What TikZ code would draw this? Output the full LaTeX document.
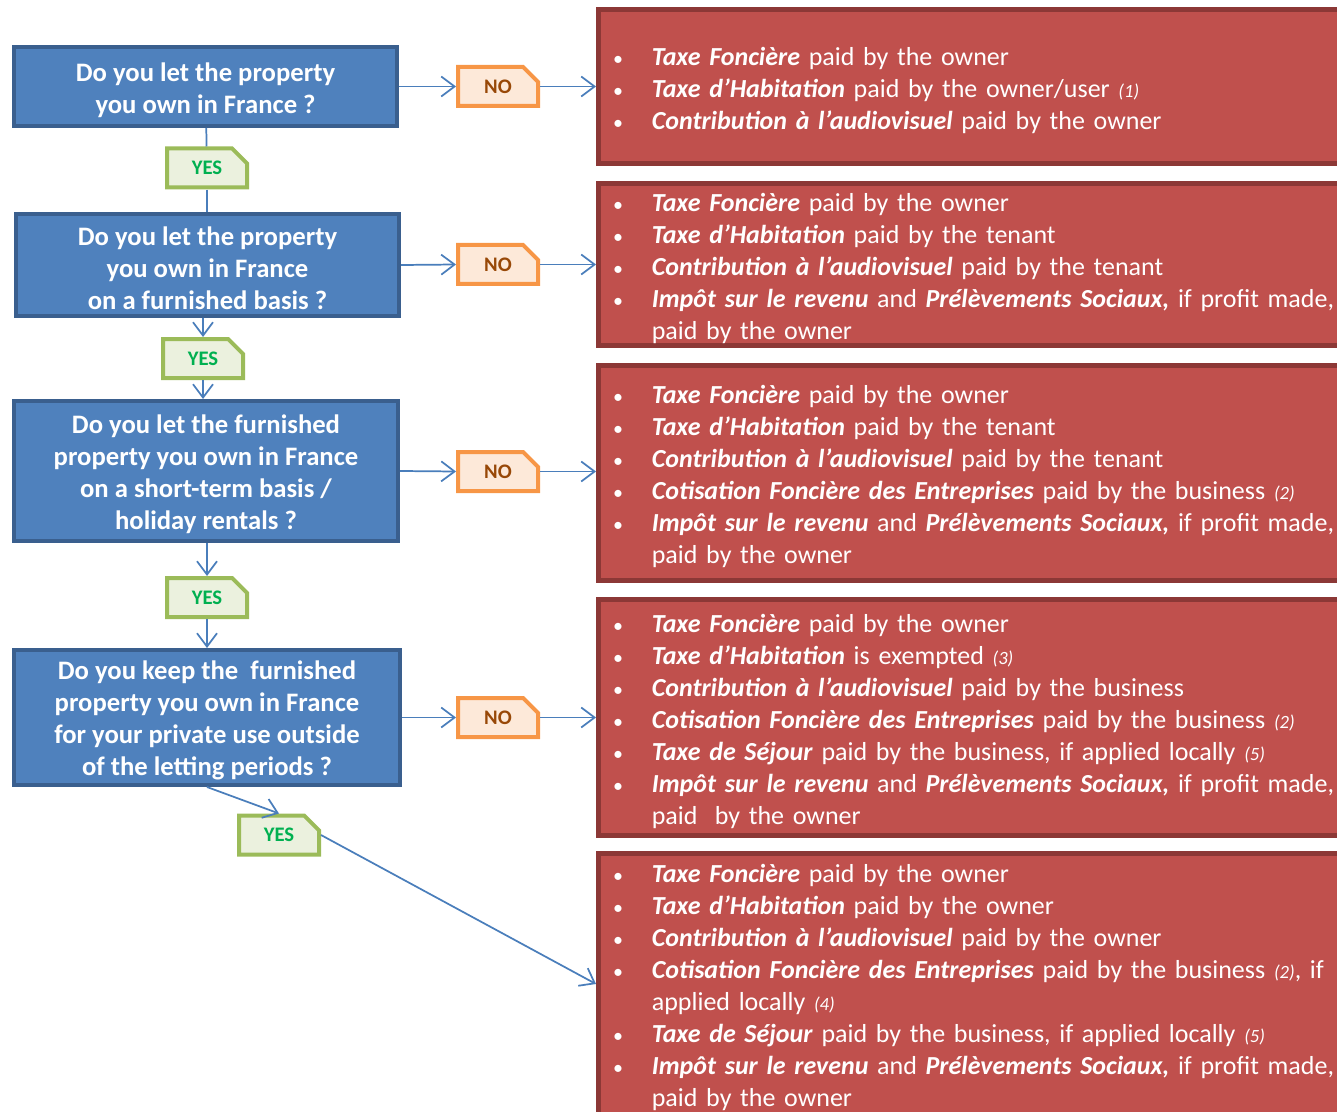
\documentclass[tikz,border=0pt]{standalone}
\usepackage{fontspec}
\setmainfont{Carlito}
\usepackage{xcolor}
\usepackage{tikz}
\usetikzlibrary{arrows.meta,positioning,shapes.misc}
\definecolor{qblue}{HTML}{4F81BD}
\definecolor{qblueline}{HTML}{3A5F8E}
\definecolor{nofill}{HTML}{FDE9D9}
\definecolor{noline}{HTML}{F79646}
\definecolor{notext}{HTML}{984807}
\definecolor{yesfill}{HTML}{EBF1DE}
\definecolor{yesline}{HTML}{9BBB59}
\definecolor{yestext}{HTML}{00B050}
\definecolor{taxred}{HTML}{C0504D}
\definecolor{taxline}{HTML}{8C3836}
\definecolor{linkblue}{HTML}{4A7EBB}
\newdimen\pxu \pxu=0.75pt
\newcommand{\topgap}{\rule{0pt}{19pt}}
\newcommand{\itm}{\leavevmode\llap{{\fontsize{15}{24}\selectfont\textbullet}\hspace{21.5pt}}}
\newcommand{\tx}[1]{\textbf{\textit{#1}}}
\newcommand{\fnm}[1]{{\fontsize{14}{24}\selectfont\itshape #1}}

\begin{document}
\begin{tikzpicture}[
    x=0.75pt, y=-0.75pt,
    question/.style={rectangle, draw=qblueline, fill=qblue, line width=3pt,
        text=white, align=center, inner sep=0,
        font=\fontsize{20}{24}\selectfont\bfseries},
    tag/.style={chamfered rectangle, chamfered rectangle corners=north east,
        chamfered rectangle xsep=6pt, chamfered rectangle ysep=6pt,
        line width=3pt, inner sep=0, minimum width=80\pxu, minimum height=39\pxu,
        font=\fontsize{15.5}{18}\selectfont\bfseries},
    nobox/.style={tag, draw=noline, fill=nofill, text=notext},
    yesbox/.style={tag, draw=yesline, fill=yesfill, text=yestext},
    taxbox/.style={rectangle, draw=taxline, fill=taxred, line width=3.75pt,
        text=white, anchor=west, text width=525pt,
        inner xsep=40pt, inner ysep=0,
        font=\fontsize{19.5}{24}\selectfont},
    link/.style={draw=linkblue, line width=1.3pt},
    linkarrow/.style={link, -{Straight Barb[length=10pt,width=15pt]}}]
\useasboundingbox (0,0) rectangle (1337,1112);
\clip (0,0) rectangle (1337,1112);

\node[question, minimum width=383\pxu, minimum height=79\pxu]  (Q1) at (205.5,86.5) {\topgap Do you let the property\\you own in France ?};
\node[question, minimum width=383\pxu, minimum height=102\pxu] (Q2) at (207.5,265) {\topgap Do you let the property\\you own in France\\on a furnished basis ?};
\node[question, minimum width=384\pxu, minimum height=140\pxu] (Q3) at (206,471) {\topgap Do you let the furnished\\property you own in France\\on a short-term basis /\\holiday rentals ?};
\node[question, minimum width=386\pxu, minimum height=135\pxu] (Q4) at (207,717.5) {\topgap Do you keep the \ furnished\\property you own in France\\for your private use outside\\of the letting periods ?};

\node[nobox] (N1) at (498,86.5)  {NO};
\node[nobox] (N2) at (498,264.5) {NO};
\node[nobox] (N3) at (498,471.5) {NO};
\node[nobox] (N4) at (498,717.5) {NO};

\node[yesbox] (Y1) at (207,168)   {YES};
\node[yesbox] (Y2) at (203,358.5) {YES};
\node[yesbox] (Y3) at (207,597.5) {YES};
\node[yesbox] (Y4) at (279,835)   {YES};

\node[taxbox, minimum height=154\pxu] (R1) at (596,86.5) {%
\itm\topgap\tx{Taxe Foncière} paid by the owner\\
\itm\tx{Taxe d’Habitation} paid by the owner/user \fnm{(1)}\\
\itm\tx{Contribution à l’audiovisuel} paid by the owner};

\node[taxbox, minimum height=162\pxu] (R2) at (596,264.5) {%
\itm\topgap\tx{Taxe Foncière} paid by the owner\\
\itm\tx{Taxe d’Habitation} paid by the tenant\\
\itm\tx{Contribution à l’audiovisuel} paid by the tenant\\
\itm\tx{Impôt sur le revenu} and \tx{Prélèvements Sociaux,} if profit made,\\
paid by the owner};

\node[taxbox, minimum height=215\pxu] (R3) at (596,473) {%
\itm\topgap\tx{Taxe Foncière} paid by the owner\\
\itm\tx{Taxe d’Habitation} paid by the tenant\\
\itm\tx{Contribution à l’audiovisuel} paid by the tenant\\
\itm\tx{Cotisation Foncière des Entreprises} paid by the business \fnm{(2)}\\
\itm\tx{Impôt sur le revenu} and \tx{Prélèvements Sociaux,} if profit made,\\
paid by the owner};

\node[taxbox, minimum height=236\pxu] (R4) at (596,717.5) {%
\itm\topgap\tx{Taxe Foncière} paid by the owner\\
\itm\tx{Taxe d’Habitation} is exempted \fnm{(3)}\\
\itm\tx{Contribution à l’audiovisuel} paid by the business\\
\itm\tx{Cotisation Foncière des Entreprises} paid by the business \fnm{(2)}\\
\itm\tx{Taxe de Séjour} paid by the business, if applied locally \fnm{(5)}\\
\itm\tx{Impôt sur le revenu} and \tx{Prélèvements Sociaux,} if profit made,\\
paid \ by the owner};

\node[taxbox, minimum height=261\pxu] (R5) at (596,984) {%
\itm\topgap\tx{Taxe Foncière} paid by the owner\\
\itm\tx{Taxe d’Habitation} paid by the owner\\
\itm\tx{Contribution à l’audiovisuel} paid by the owner\\
\itm\tx{Cotisation Foncière des Entreprises} paid by the business \fnm{(2)}, if\\
applied locally \fnm{(4)}\\
\itm\tx{Taxe de Séjour} paid by the business, if applied locally \fnm{(5)}\\
\itm\tx{Impôt sur le revenu} and \tx{Prélèvements Sociaux,} if profit made,\\
paid by the owner};

\path[linkarrow] (Q1.east) -- (N1.west);
\path[linkarrow] (Q2.east) -- (N2.west);
\path[linkarrow] (Q3.east) -- (N3.west);
\path[linkarrow] (Q4.east) -- (N4.west);
\path[linkarrow] (N1.east) -- (N1.east -| R1.west);
\path[linkarrow] (N2.east) -- (N2.east -| R2.west);
\path[linkarrow] (N3.east) -- (N3.east -| R3.west);
\path[linkarrow] (N4.east) -- (N4.east -| R4.west);
\path[link] (Q1) -- (Y1);
\path[link] (Y1) -- (Y1 |- Q2.north);
\path[linkarrow] (Q2.south -| Y2) -- (Y2);
\path[linkarrow] (Y2) -- (Y2 |- Q3.north);
\path[linkarrow] (Q3.south -| Y3) -- (Y3);
\path[linkarrow] (Y3) -- (Y3 |- Q4.north);
\path[linkarrow] (Q4.south) -- (Y4.north);
\path[linkarrow] (Y4.east) -- (R5.west);

\end{tikzpicture}
\end{document}
